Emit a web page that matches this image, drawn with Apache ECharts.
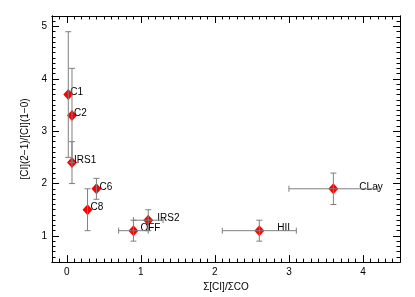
<!DOCTYPE html>
<html>
<head>
<meta charset="utf-8">
<script src="https://cdn.jsdelivr.net/npm/echarts@6/dist/echarts.min.js"></script>
<style>
html,body{margin:0;padding:0;background:#fff;}
#chart{width:415px;height:297px;}
</style>
</head>
<body>
<div id="chart"></div>
<script>
// ---- data ----
var names = ['C1', 'C2', 'IRS1', 'C6', 'C8', 'OFF', 'IRS2', 'HII', 'CLay'];
var xVals = [0.02, 0.07, 0.07, 0.4, 0.28, 0.9, 1.1, 2.6, 3.6];
var yVals = [3.7, 3.3, 2.4, 1.9, 1.5, 1.1, 1.3, 1.1, 1.9];
var xErr  = [0, 0, 0, 0, 0, 0.2, 0.2, 0.5, 0.6];
var yErr  = [1.2, 0.9, 0.4, 0.2, 0.4, 0.2, 0.2, 0.2, 0.3];
var xTickLabels = [0, 1, 2, 3, 4];
var yTickLabels = [1, 2, 3, 4, 5];

// ---- styling (label placement in pixels) ----
var labelDx = [2, 2, 2, 3, 3, 7, 9, 18, 26];
var labelDy = -2;

var FONT = 'Liberation Sans';
function steps(a, b, s) {
  var out = [];
  var n = Math.round((b - a) / s);
  for (var i = 0; i <= n; i++) out.push(Math.round((a + i * s) * 1000) / 1000);
  return out;
}
var X_MIN = -0.2, X_MAX = 4.5, Y_MIN = 0.5, Y_MAX = 5.2;
var xMinor = steps(X_MIN, X_MAX, 0.1);
var yMinor = steps(Y_MIN, Y_MAX, 0.1);

function mkAxis(pos, ticks, len, labels, extra) {
  var isX = pos === 'bottom' || pos === 'top';
  var a = {
    type: 'value', position: pos,
    min: isX ? X_MIN : Y_MIN,
    max: isX ? X_MAX : Y_MAX,
    axisLine: {show: true, onZero: false, lineStyle: {color: '#000', width: 1}},
    axisTick: {show: true, inside: true, length: len, customValues: ticks, lineStyle: {color: '#000', width: 1}},
    axisLabel: labels ? {show: true, customValues: labels, color: '#000', fontSize: 10, fontFamily: FONT, margin: 5} : {show: false},
    splitLine: {show: false}
  };
  if (extra) for (var k in extra) a[k] = extra[k];
  return a;
}

var scatterData = names.map(function (n, i) {
  return {name: n, value: [xVals[i], yVals[i]]};
});
var errData = names.map(function (n, i) {
  return [xVals[i], yVals[i], xErr[i], yErr[i]];
});

var chart = echarts.init(document.getElementById('chart'), null, {renderer: 'canvas'});
chart.setOption({
  animation: false,
  backgroundColor: '#fff',
  grid: {left: 52, right: 15, top: 16, bottom: 33, containLabel: false},
  xAxis: [
    mkAxis('bottom', xTickLabels, 7, xTickLabels, {
      name: 'Σ[CI]/ΣCO', nameLocation: 'middle', nameGap: 15,
      nameTextStyle: {color: '#000', fontSize: 10, fontFamily: FONT}
    }),
    mkAxis('bottom', xMinor, 3.5, null),
    mkAxis('top', xTickLabels, 7, null),
    mkAxis('top', xMinor, 3.5, null)
  ],
  yAxis: [
    mkAxis('left', yTickLabels, 7, yTickLabels, {
      name: '[CI](2−1)/[CI](1−0)', nameLocation: 'middle', nameGap: 14, nameRotate: 90,
      nameTextStyle: {color: '#000', fontSize: 10, fontFamily: FONT}
    }),
    mkAxis('left', yMinor, 3.5, null),
    mkAxis('right', yTickLabels, 7, null),
    mkAxis('right', yMinor, 3.5, null)
  ],
  series: [
    {
      type: 'scatter', xAxisIndex: 0, yAxisIndex: 0,
      symbol: 'diamond', symbolSize: [10, 11],
      itemStyle: {color: '#ff0000', opacity: 1},
      label: {
        show: true, position: 'inside', align: 'left', verticalAlign: 'middle',
        formatter: '{b}', color: '#000', fontSize: 10, fontFamily: FONT
      },
      labelLayout: function (p) {
        return {dx: labelDx[p.dataIndex], dy: labelDy, hideOverlap: false};
      },
      data: scatterData, z: 2
    },
    {
      type: 'custom', xAxisIndex: 0, yAxisIndex: 0, z: 3,
      data: errData,
      encode: {x: 0, y: 1},
      renderItem: function (params, api) {
        var x = api.value(0), y = api.value(1), ex = api.value(2), ey = api.value(3);
        var st = {stroke: '#7f7f7f', lineWidth: 1};
        var children = [];
        var cap = 3;
        if (ey > 0) {
          var t = api.coord([x, y + ey]), b = api.coord([x, y - ey]);
          children.push({type: 'line', shape: {x1: t[0], y1: t[1], x2: b[0], y2: b[1]}, style: st});
          children.push({type: 'line', shape: {x1: t[0] - cap, y1: t[1], x2: t[0] + cap, y2: t[1]}, style: st});
          children.push({type: 'line', shape: {x1: b[0] - cap, y1: b[1], x2: b[0] + cap, y2: b[1]}, style: st});
        }
        if (ex > 0) {
          var l = api.coord([x - ex, y]), r = api.coord([x + ex, y]);
          children.push({type: 'line', shape: {x1: l[0], y1: l[1], x2: r[0], y2: r[1]}, style: st});
          children.push({type: 'line', shape: {x1: l[0], y1: l[1] - cap, x2: l[0], y2: l[1] + cap}, style: st});
          children.push({type: 'line', shape: {x1: r[0], y1: r[1] - cap, x2: r[0], y2: r[1] + cap}, style: st});
        }
        return {type: 'group', children: children};
      }
    }
  ]
});
</script>
</body>
</html>
